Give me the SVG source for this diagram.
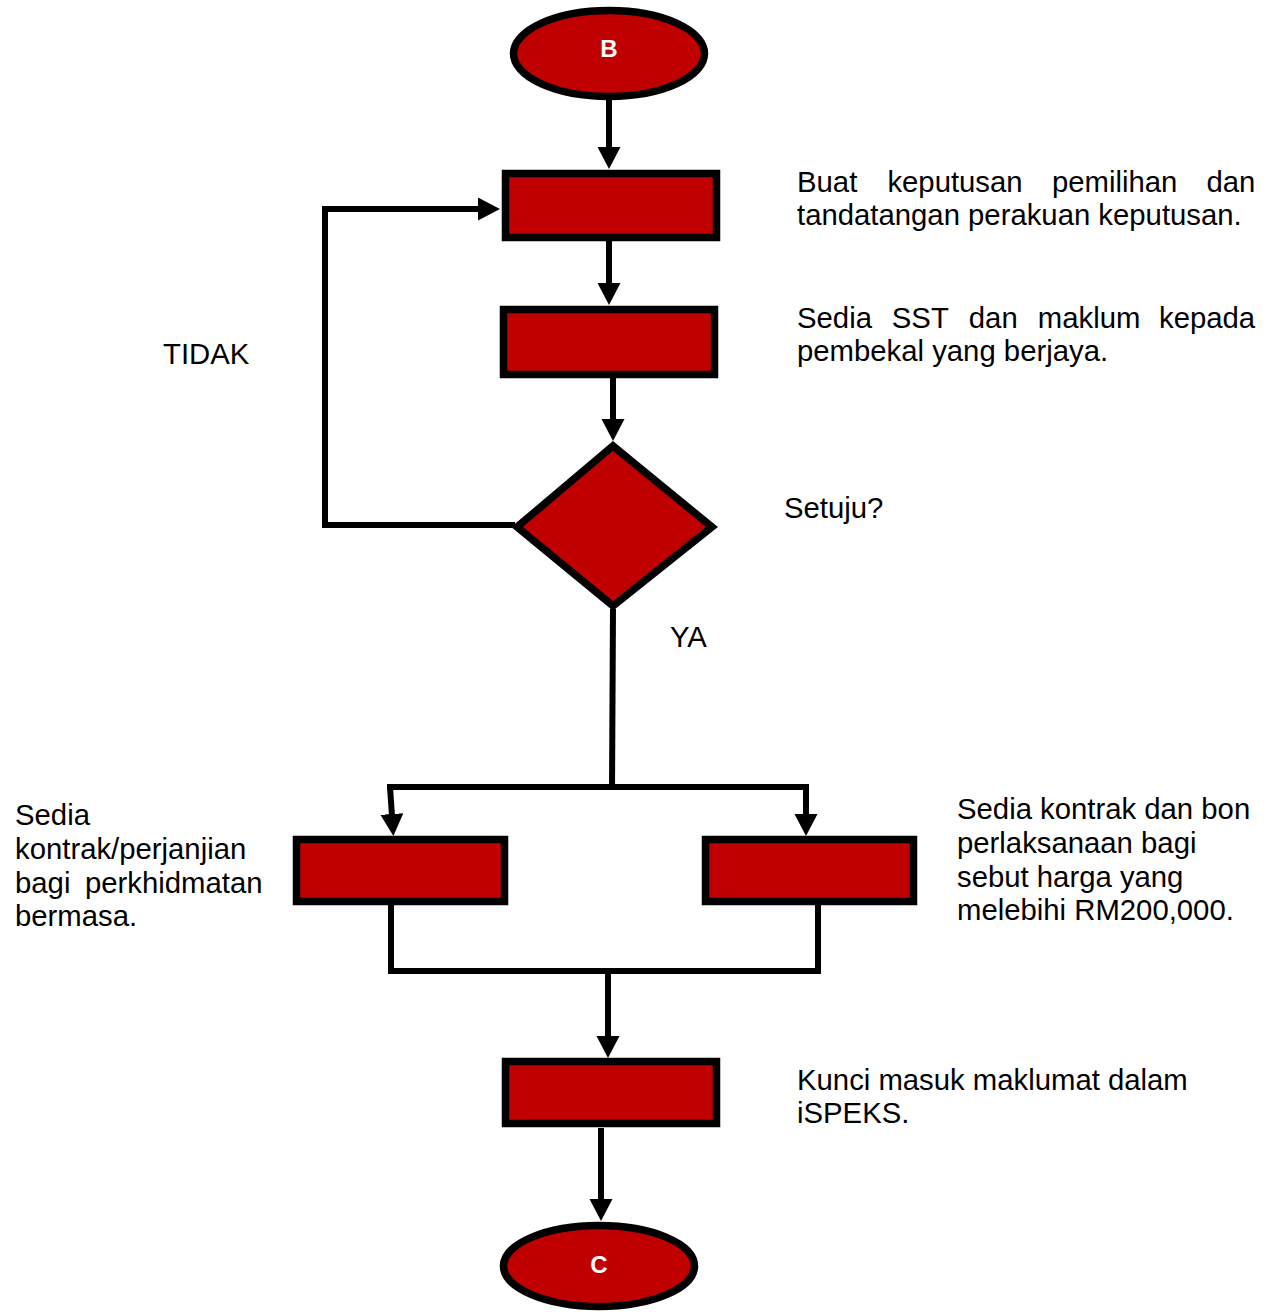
<svg xmlns="http://www.w3.org/2000/svg" width="1267" height="1312" viewBox="0 0 1267 1312">
<style>
.shape{fill:#C00000;stroke:#000;stroke-width:7.5}
.conn{fill:none;stroke:#000;stroke-width:6;stroke-linejoin:miter}
.lbl{font-family:"Liberation Sans",Arial,sans-serif;font-size:29.3px;fill:#000}
.term{font-family:"Liberation Sans",Arial,sans-serif;font-size:24px;font-weight:bold;fill:#fff;text-anchor:middle}
</style>
<defs>
<marker id="ah" markerUnits="userSpaceOnUse" markerWidth="24" markerHeight="24" refX="2" refY="11.5" orient="auto" viewBox="0 0 24 24">
<path d="M0,0 L22,11.5 L0,23 z" fill="#000"/>
</marker>
</defs>
<rect width="1267" height="1312" fill="#fff"/>
<g id="connectors">
<line class="conn" x1="609" y1="100" x2="609" y2="149" marker-end="url(#ah)"/>
<line class="conn" x1="609" y1="241" x2="609" y2="285" marker-end="url(#ah)"/>
<line class="conn" x1="613" y1="378" x2="613" y2="421" marker-end="url(#ah)"/>
<polyline class="conn" points="515,525 325,525 325,209 480,209" marker-end="url(#ah)"/>
<line class="conn" x1="613" y1="609" x2="612" y2="790"/>
<line class="conn" x1="387" y1="787" x2="809" y2="787"/>
<line class="conn" x1="390" y1="787" x2="392" y2="816" marker-end="url(#ah)"/>
<line class="conn" x1="806" y1="787" x2="806" y2="816" marker-end="url(#ah)"/>
<line class="conn" x1="391" y1="905" x2="391" y2="974"/>
<line class="conn" x1="818" y1="905" x2="818" y2="974"/>
<line class="conn" x1="391" y1="971" x2="818" y2="971"/>
<line class="conn" x1="608" y1="971" x2="608" y2="1038" marker-end="url(#ah)"/>
<line class="conn" x1="601" y1="1128" x2="601" y2="1201" marker-end="url(#ah)"/>
</g>
<g id="start-b">
<ellipse class="shape" cx="609" cy="53.5" rx="95.5" ry="43"/>
<text class="term" x="609" y="57">B</text>
</g>
<g id="buat-keputusan">
<rect class="shape" x="505.5" y="173.5" width="211" height="64"/>
<text class="lbl" y="192"><tspan x="797">Buat</tspan><tspan x="887.4">keputusan</tspan><tspan x="1051.9">pemilihan</tspan><tspan x="1206.5">dan</tspan></text>
<text class="lbl" x="797" y="225">tandatangan perakuan keputusan.</text>
</g>
<g id="sedia-sst">
<rect class="shape" x="503.5" y="309.5" width="211" height="65"/>
<text class="lbl" y="328"><tspan x="797">Sedia</tspan><tspan x="891.8">SST</tspan><tspan x="968.8">dan</tspan><tspan x="1037.8">maklum</tspan><tspan x="1159">kepada</tspan></text>
<text class="lbl" x="797" y="361">pembekal yang berjaya.</text>
</g>
<g id="setuju">
<polygon class="shape" points="613,446 712,527 613,606 517,527"/>
<text class="lbl" x="784" y="518">Setuju?</text>
</g>
<g id="label-tidak">
<text class="lbl" x="163" y="364">TIDAK</text>
</g>
<g id="label-ya">
<text class="lbl" x="670" y="647">YA</text>
</g>
<g id="sedia-kontrak-perkhidmatan">
<rect class="shape" x="296.5" y="839.5" width="208" height="62"/>
<text class="lbl" x="15" y="825">Sedia</text>
<text class="lbl" x="15" y="859">kontrak/perjanjian</text>
<text class="lbl" y="893"><tspan x="15">bagi</tspan><tspan x="85">perkhidmatan</tspan></text>
<text class="lbl" x="15" y="926">bermasa.</text>
</g>
<g id="sedia-kontrak-bon">
<rect class="shape" x="705.5" y="839.5" width="208" height="62"/>
<text class="lbl" x="957" y="819">Sedia kontrak dan bon</text>
<text class="lbl" x="957" y="853">perlaksanaan bagi</text>
<text class="lbl" x="957" y="887">sebut harga yang</text>
<text class="lbl" x="957" y="920">melebihi RM200,000.</text>
</g>
<g id="kunci-masuk">
<rect class="shape" x="505.5" y="1061.5" width="211" height="62"/>
<text class="lbl" x="797" y="1090">Kunci masuk maklumat dalam</text>
<text class="lbl" x="797" y="1123">iSPEKS.</text>
</g>
<g id="end-c">
<ellipse class="shape" cx="599" cy="1266" rx="95.5" ry="40.5"/>
<text class="term" x="599" y="1273">C</text>
</g>
</svg>
